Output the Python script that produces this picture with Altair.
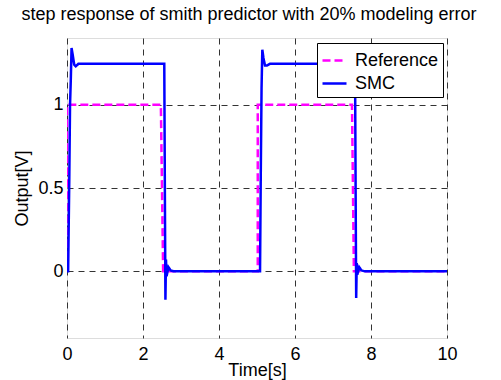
import altair as alt
import pandas as pd

# Reference square wave
ref_t = [0.0, 0.0, 2.47, 2.53, 5.02, 5.02, 7.5, 7.55, 10.0]
ref_y = [0.0, 1.0, 1.0, 0.0, 0.0, 1.0, 1.0, 0.0, 0.0]

# SMC response
smc_t = [0.0, 0.03, 0.06, 0.08, 0.10, 0.12, 0.15, 0.19, 0.23, 0.30,
         2.56, 2.575, 2.59, 2.605, 2.62, 2.67, 2.73, 2.82,
         5.08, 5.10, 5.12, 5.14, 5.17, 5.21, 5.26, 5.34,
         7.58, 7.595, 7.61, 7.625, 7.64, 7.69, 7.75, 7.84, 10.0]
smc_y = [0.0, 0.0, 0.55, 1.0, 1.15, 1.34, 1.30, 1.24, 1.23, 1.245,
         1.245, 0.5, -0.17, 0.07, -0.03, 0.025, 0.005, 0.0,
         0.0, 0.6, 1.1, 1.33, 1.28, 1.235, 1.235, 1.245,
         1.245, 0.5, -0.16, 0.05, -0.02, 0.025, 0.005, 0.0, 0.0]

series_names = ["Reference", "SMC"]
x_ticks = [0, 2, 4, 6, 8, 10]
y_ticks = [0, 0.5, 1]

rows = []
for i, (t, y) in enumerate(zip(ref_t, ref_y)):
    rows.append({"t": t, "y": y, "series": "Reference", "i": i})
for i, (t, y) in enumerate(zip(smc_t, smc_y)):
    rows.append({"t": t, "y": y, "series": "SMC", "i": i})
df = pd.DataFrame(rows)

FONT = "Liberation Sans"

legend_kw = dict(title=None, orient="none", legendX=250, legendY=5,
                 fillColor="white", strokeColor="black", padding=4,
                 symbolType="stroke", symbolSize=576, symbolStrokeWidth=2.5,
                 labelFontSize=18, labelFont=FONT, labelOffset=7,
                 rowPadding=0, labelColor="black")

chart = alt.Chart(df).mark_line(clip=True).encode(
    x=alt.X("t:Q", scale=alt.Scale(domain=[0, 10], nice=False),
            axis=alt.Axis(values=x_ticks, title="Time[s]", grid=True,
                          gridDash=[6, 5], gridColor="#333333", gridWidth=1,
                          domain=False, ticks=False, labelPadding=7,
                          labelFlush=False, labelOverlap=False, labelFontSize=18,
                          titleFontSize=18, titleFontWeight="normal",
                          titleY=37, titleBaseline="alphabetic",
                          labelFont=FONT, titleFont=FONT, labelColor="black",
                          titleColor="black")),
    y=alt.Y("y:Q", scale=alt.Scale(domain=[-0.4, 1.4], nice=False, zero=False),
            axis=alt.Axis(values=y_ticks, title="Output[V]", format="~g", grid=True,
                          gridDash=[6, 5], gridColor="#333333", gridWidth=1,
                          domain=False, ticks=False, labelPadding=4,
                          labelFlush=False, labelOverlap=False, labelFontSize=18,
                          titleFontSize=18, titleFontWeight="normal", titlePadding=6,
                          labelFont=FONT, titleFont=FONT, labelColor="black",
                          titleColor="black")),
    color=alt.Color("series:N", scale=alt.Scale(domain=series_names, range=["#FF00FF", "#0000FF"]),
                    legend=alt.Legend(**legend_kw)),
    strokeDash=alt.StrokeDash("series:N", scale=alt.Scale(domain=series_names, range=[[8, 4], [1, 0]]),
                              legend=alt.Legend(**legend_kw)),
    strokeWidth=alt.StrokeWidth("series:N", scale=alt.Scale(domain=series_names, range=[2.5, 2.5]),
                                legend=None),
    order="i:Q",
).properties(
    width=380, height=300,
    padding={"left": 67, "top": 38, "right": 54, "bottom": 42},
    autosize=alt.AutoSizeParams(type="none"),
    title=alt.TitleParams("step response of smith predictor with 20% modeling error",
                          fontSize=18, font=FONT, fontWeight="normal", color="black",
                          anchor="middle", dx=-8, offset=14),
).configure_view(stroke="black", strokeWidth=1).configure(background="white")

chart.save("out.html", embed_options={"renderer": "svg", "actions": False})
